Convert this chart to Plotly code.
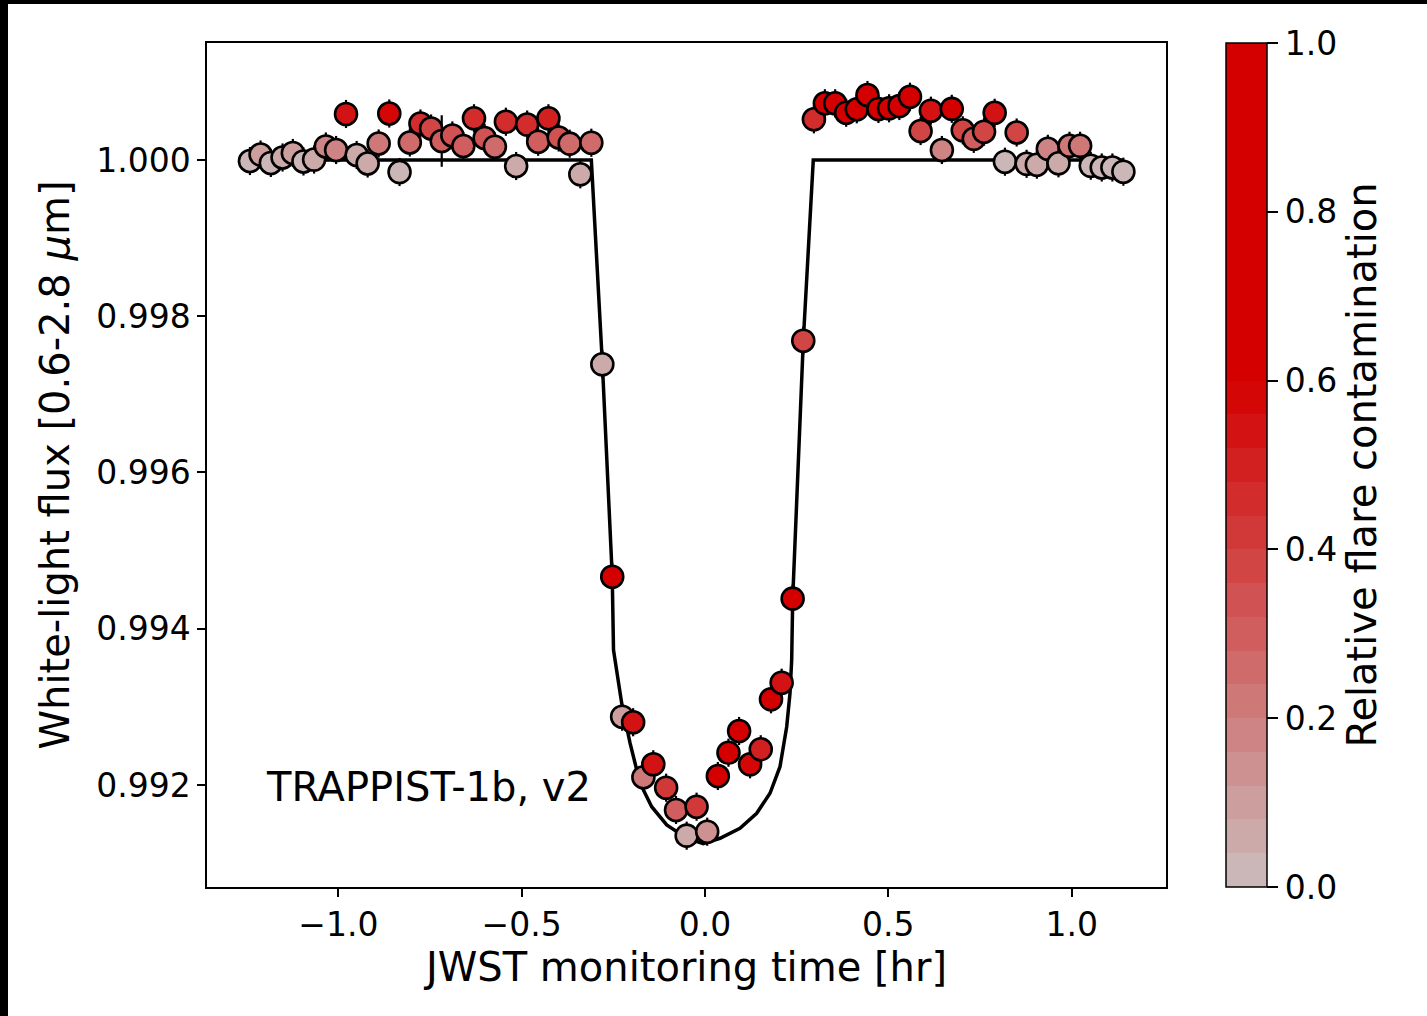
import plotly.graph_objects as go

# JWST white-light photometry of a TRAPPIST-1b transit (time in hours from mid-transit)
time_hr = [
    -1.241, -1.212, -1.184, -1.152, -1.124, -1.095, -1.066, -1.034, -1.006, -0.979,
    -0.950, -0.920, -0.890, -0.861, -0.833, -0.805, -0.776, -0.747, -0.718, -0.689,
    -0.659, -0.630, -0.601, -0.573, -0.543, -0.515, -0.485, -0.455, -0.427, -0.399,
    -0.369, -0.340, -0.310,
    -0.280, -0.253, -0.226, -0.196, -0.168, -0.141, -0.106, -0.079, -0.050, -0.023,
    0.006, 0.035, 0.064, 0.093, 0.123, 0.152, 0.180, 0.209, 0.239, 0.268,
    0.297, 0.327, 0.355, 0.385, 0.414, 0.443, 0.473, 0.502, 0.530, 0.559,
    0.588, 0.616, 0.646, 0.673, 0.703, 0.733, 0.761, 0.790, 0.818, 0.850,
    0.877, 0.905, 0.935, 0.964, 0.994, 1.023, 1.052, 1.082, 1.111, 1.141,
]

flux = [
    0.999987, 1.000070, 0.999962, 1.000032, 1.000090, 0.999981, 1.000006, 1.000173, 1.000128, 1.000589,
    1.000064, 0.999955, 1.000211, 1.000595, 0.999846, 1.000224, 1.000467, 1.000403, 1.000243, 1.000314,
    1.000179, 1.000534, 1.000282, 1.000170, 1.000490, 0.999923, 1.000454, 1.000234, 1.000534, 1.000288,
    1.000209, 0.999817, 1.000221,
    0.997385, 0.994666, 0.992874, 0.992803, 0.992099, 0.992265, 0.991965, 0.991680, 0.991351, 0.991722,
    0.991402, 0.992115, 0.992413, 0.992691, 0.992265, 0.992457, 0.993097, 0.993309, 0.994385, 0.997687,
    1.000521, 1.000726, 1.000726, 1.000605, 1.000649, 1.000832, 1.000653, 1.000662, 1.000691, 1.000810,
    1.000371, 1.000631, 1.000128, 1.000655, 1.000380, 1.000271, 1.000362, 1.000604, 0.999978, 1.000352,
    0.999951, 0.999940, 1.000143, 0.999958, 1.000182, 1.000182, 0.999926, 0.999904, 0.999904, 0.999850,
]

flux_err = [0.00018] * 18 + [0.00033] + [0.00018] * 64

flare_contamination = [
    0.03, 0.08, 0.03, 0.05, 0.10, 0.03, 0.05, 0.17, 0.17, 0.52,
    0.07, 0.04, 0.22, 0.57, 0.03, 0.24, 0.44, 0.38, 0.30, 0.33,
    0.28, 0.46, 0.32, 0.26, 0.45, 0.04, 0.44, 0.28, 0.48, 0.32,
    0.26, 0.04, 0.27,
    0.04, 0.70, 0.10, 0.55, 0.22, 0.55, 0.43, 0.30, 0.06, 0.42,
    0.14, 0.70, 0.70, 0.70, 0.58, 0.50, 0.70, 0.52, 0.70, 0.37,
    0.45, 0.70, 0.70, 0.60, 0.70, 0.70, 0.70, 0.70, 0.70, 0.70,
    0.38, 0.55, 0.18, 0.65, 0.37, 0.30, 0.38, 0.55, 0.03, 0.37,
    0.04, 0.04, 0.17, 0.04, 0.22, 0.22, 0.03, 0.03, 0.03, 0.03,
]

# Transit model curve
model_time = [-1.241, -0.310, -0.280, -0.253, -0.2495, -0.2272, -0.2045, -0.1773, -0.1454,
              -0.1044, -0.0499, -0.0046, 0.0409, 0.0954, 0.1410, 0.1773, 0.2045, 0.2228,
              0.2318, 0.2364, 0.2392, 0.2681, 0.2953, 1.141]
model_flux = [1.0, 1.0, 0.997402, 0.994675, 0.993728, 0.993046, 0.992538, 0.992026, 0.991722,
              0.991488, 0.991318, 0.991250, 0.991318, 0.991446, 0.991638, 0.991894, 0.992234,
              0.992746, 0.993174, 0.993600, 0.994385, 0.997687, 1.0, 1.0]

x_ticks = [-1.0, -0.5, 0.0, 0.5, 1.0]
y_ticks = [0.992, 0.994, 0.996, 0.998, 1.000]
cbar_ticks = [0.0, 0.2, 0.4, 0.6, 0.8, 1.0]

# Stepped grey-to-red colour map that saturates around 0.6
grey = (203, 189, 189)
red = (212, 0, 0)
n_bands = 25
colorscale = []
for i in range(n_bands):
    lo, hi = i / n_bands, (i + 1) / n_bands
    f = min(1.0, ((lo + hi) / 2) / 0.6)
    col = "rgb({:.0f},{:.0f},{:.0f})".format(
        grey[0] + (red[0] - grey[0]) * f,
        grey[1] + (red[1] - grey[1]) * f,
        grey[2] + (red[2] - grey[2]) * f,
    )
    colorscale.append([lo, col])
    colorscale.append([hi, col])

FONT = "DejaVu Sans"
W, H = 1427, 1016
L, R, T, B = 207, 261, 43, 129
pw, ph = W - L - R, H - T - B


def px_x(px):
    return (px - L) / pw


def px_y(py):
    return (H - B - py) / ph


fig = go.Figure()

fig.add_trace(go.Scatter(
    x=model_time, y=model_flux, mode="lines",
    line=dict(color="black", width=3.5), showlegend=False, hoverinfo="skip",
))

fig.add_trace(go.Scatter(
    x=time_hr, y=flux, mode="markers",
    error_y=dict(type="data", array=flux_err, visible=True, color="black",
                 thickness=2.2, width=0),
    marker=dict(
        size=22, color=flare_contamination, colorscale=colorscale,
        cmin=0, cmax=1, line=dict(color="black", width=2.6),
        showscale=True,
        colorbar=dict(
            x=px_x(1226), xanchor="left", y=0.5, yanchor="middle",
            len=1, lenmode="fraction", thickness=41, xpad=0, ypad=0,
            outlinecolor="black", outlinewidth=1.5,
            tickvals=cbar_ticks, ticktext=["{:.1f}".format(v) for v in cbar_ticks],
            ticks="outside", ticklen=11, tickwidth=1.5, tickcolor="black",
            tickfont=dict(family=FONT, size=33, color="black"),
            title=dict(text="Relative flare contamination", side="right",
                       font=dict(family=FONT, size=40, color="black")),
        ),
    ),
    showlegend=False,
))

fig.add_annotation(
    x=-1.2026, y=0.991974, xref="x", yref="y", text="TRAPPIST-1b, v2",
    showarrow=False, xanchor="left", yanchor="middle",
    font=dict(family=FONT, size=40, color="black"),
)

# thin dark edge along the top and left of the canvas
fig.add_shape(type="rect", xref="paper", yref="paper", x0=px_x(0), x1=px_x(W),
              y0=px_y(4), y1=px_y(0), fillcolor="black", line_width=0, layer="above")
fig.add_shape(type="rect", xref="paper", yref="paper", x0=px_x(0), x1=px_x(8),
              y0=px_y(H), y1=px_y(0), fillcolor="black", line_width=0, layer="above")

axis_common = dict(
    showline=True, mirror=True, linecolor="black", linewidth=1.5,
    ticks="outside", ticklen=8, tickwidth=1.5, tickcolor="black",
    showgrid=False, zeroline=False,
    tickfont=dict(family=FONT, size=33, color="black"),
)

fig.update_xaxes(
    range=[-1.3581, 1.2572], tickvals=x_ticks, tickformat=".1f",
    title=dict(text="JWST monitoring time [hr]", standoff=10,
               font=dict(family=FONT, size=40, color="black")),
    **axis_common,
)
fig.update_yaxes(
    range=[0.990694, 1.0014976], tickvals=y_ticks, tickformat=".3f",
    title=dict(text="White-light flux [0.6-2.8 <i>μ</i>m]", standoff=14,
               font=dict(family=FONT, size=40, color="black")),
    **axis_common,
)

fig.update_layout(
    width=W, height=H, autosize=False,
    margin=dict(l=L, r=R, t=T, b=B, pad=0),
    paper_bgcolor="white", plot_bgcolor="white",
    font=dict(family=FONT, color="black"),
)

fig.write_html("out.html")
